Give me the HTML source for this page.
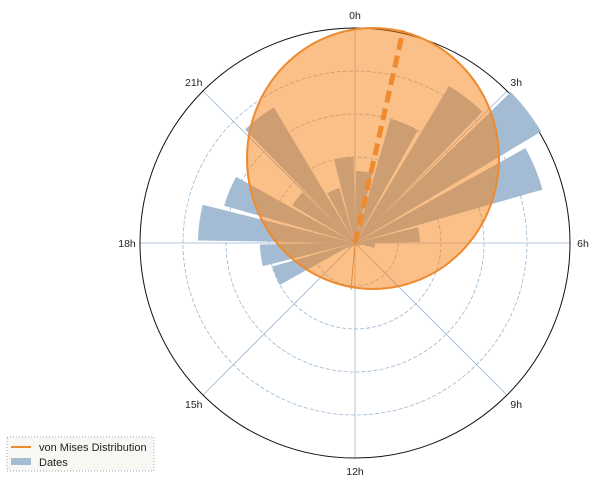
<!DOCTYPE html>
<html><head><meta charset="utf-8"><style>
body{margin:0;background:#fff;font-family:"Liberation Sans",sans-serif}
svg{display:block}
</style></head><body>
<svg id="chart" width="600" height="487">
<g id="grid"></g><g id="bars"></g><g id="vm"></g><g id="labels"></g>
<g>
<rect x="7" y="437" width="147" height="34" fill="#f8f7f4" stroke="#9ab" stroke-dasharray="1,2"/>
<line x1="11" y1="447" x2="31" y2="447" stroke="#ee8a2f" stroke-width="2"/>
<text x="39" y="451" font-size="11" fill="#222">von Mises Distribution</text>
<rect x="11" y="458" width="20" height="7" fill="#a3bcd3"/>
<text x="39" y="466" font-size="11" fill="#222">Dates</text>
</g>
</svg>
<script>
const hours=[0,1,2,3,4,5,6,7,8,9,10,11,12,13,14,15,16,17,18,19,20,21,22,23];
const counts=[72,129,183,217,195,65,20,6,4,3,3,3,3,3,4,8,86,95,157,136,73,158,57,86];
const tickLabels=["0h","3h","6h","9h","12h","15h","18h","21h"];
const ringValues=[43,86,129,172];
const meanHour=0.85;
const cx=355,cy=243,R=215,NS="http://www.w3.org/2000/svg";
function pt(h,r){const a=h/24*2*Math.PI;return [cx+r*Math.sin(a),cy-r*Math.cos(a)];}
function mk(t,attrs,parent){const e=document.createElementNS(NS,t);for(const k in attrs)e.setAttribute(k,attrs[k]);document.getElementById(parent).appendChild(e);return e;}
ringValues.forEach(v=>{const e=mk('circle',{cx:cx,cy:cy,r:v,fill:'none',stroke:'#9bb7d0','stroke-width':0.8,'stroke-dasharray':'4,2'},'grid');

});
tickLabels.forEach((l,i)=>{const h=i*3;const p=pt(h,R);const e=mk('line',{x1:cx,y1:cy,x2:p[0],y2:p[1],stroke:'#9bb7d0','stroke-width':0.8},'grid');


const q=pt(h,R+13);const t=mk('text',{x:q[0],y:q[1]+4,'font-size':10.5,'text-anchor':'middle',fill:'#222'},'labels');t.textContent=l;

});
const oc=mk('circle',{cx:cx,cy:cy,r:R,fill:'none',stroke:'#111','stroke-width':1},'grid');


hours.forEach((h,i)=>{const r=counts[i];const a=pt(h+0.06,r),b=pt(h+0.94,r);
const e=mk('path',{d:`M${cx},${cy}L${a[0]},${a[1]}A${r},${r} 0 0 1 ${b[0]},${b[1]}Z`,fill:'#a3bcd3'},'bars');

});
const v=mk('ellipse',{cx:373,cy:158.5,rx:126,ry:130.5,fill:'rgb(247,127,17)','fill-opacity':0.5,stroke:'#ee8a2f','stroke-width':2},'vm');


const m=pt(meanHour,218);const ml=mk('line',{x1:cx,y1:cy,x2:m[0],y2:m[1],stroke:'#ee8a2f','stroke-width':5,'stroke-dasharray':'12,6'},'vm');


const tl=mk('line',{x1:cx,y1:cy,x2:351,y2:290,stroke:'#ee8a2f','stroke-width':1},'vm');


</script>
</body></html>
